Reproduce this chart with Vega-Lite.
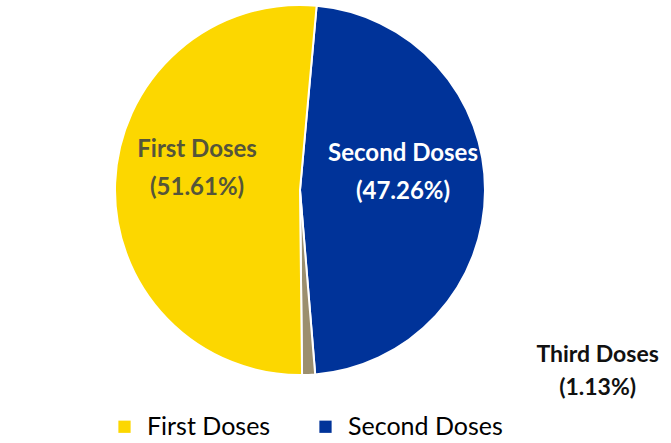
{
  "$schema": "https://vega.github.io/schema/vega-lite/v6.json",
  "autosize": {"type": "pad"},
  "width": 600,
  "height": 380,
  "padding": {"left": 0, "top": 0, "right": 0, "bottom": 0},
  "background": "white",
  "config": {"view": {"stroke": null}, "font": "Lato"},
  "data": {
    "values": [
      {"dose": "Second Doses", "pct": 47.26, "ord": 1, "label": "Second Doses|(47.26%)"},
      {"dose": "Third Doses", "pct": 1.13, "ord": 2, "label": "Third Doses|(1.13%)"},
      {"dose": "First Doses", "pct": 51.61, "ord": 3, "label": "First Doses|(51.61%)"}
    ]
  },
  "encoding": {
    "theta": {"field": "pct", "type": "quantitative", "stack": true, "scale": {"range": [0.09, 6.3732]}},
    "order": {"field": "ord", "type": "quantitative"}
  },
  "layer": [
    {
      "mark": {"type": "arc", "outerRadius": 185, "stroke": "white", "strokeWidth": 2},
      "encoding": {
        "color": {
          "field": "dose",
          "type": "nominal",
          "scale": {"domain": ["First Doses", "Second Doses", "Third Doses"], "range": ["#FCD700", "#003399", "#9C8F6E"]},
          "legend": {
            "orient": "none",
            "legendX": 112,
            "legendY": 414,
            "direction": "horizontal",
            "title": null,
            "values": ["First Doses", "Second Doses"],
            "labelFontSize": 25,
            "labelFont": "Lato",
            "labelColor": "#000000",
            "symbolType": "square",
            "symbolSize": 150,
            "symbolStrokeWidth": 0,
            "columnPadding": 42,
            "labelOffset": 10
          }
        }
      }
    },
    {
      "mark": {"type": "text", "radius": 103, "dy": -36, "fontSize": 24, "fontWeight": "bold", "lineBreak": "|", "lineHeight": 38},
      "encoding": {
        "text": {"condition": {"test": "datum.ord != 2", "field": "label"}, "value": ""},
        "color": {"condition": {"test": "datum.dose === 'Second Doses'", "value": "#FFFFFF"}, "value": "#55553A"}
      }
    },
    {
      "mark": {"type": "text", "radius": 185, "dx": 289, "dy": -20, "fontSize": 23, "fontWeight": "bold", "lineBreak": "|", "lineHeight": 33, "color": "#111111"},
      "encoding": {
        "text": {"condition": {"test": "datum.ord == 2", "field": "label"}, "value": ""}
      }
    }
  ]
}
